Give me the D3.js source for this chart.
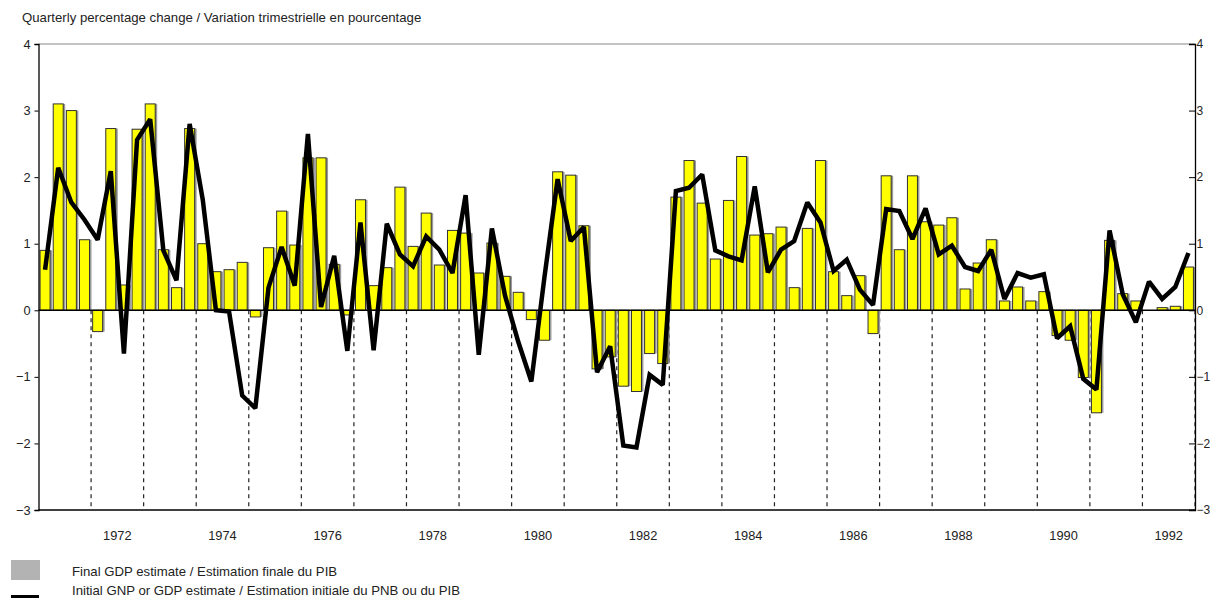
<!DOCTYPE html>
<html>
<head>
<meta charset="utf-8">
<script src="https://cdn.jsdelivr.net/npm/d3@7"></script>
<style>
  body { margin: 0; background: #fff; }
  svg { display: block; font-family: "Liberation Sans", Arial, sans-serif; }
  .tick-label { font-size: 12.8px; fill: #222; }
  .tick-label-right { font-size: 12px; fill: #222; }
</style>
</head>
<body>
<div id="chart"></div>
<script>
// quarterly data, 1971Q1 - 1992Q4
const years = d3.range(1971, 1993);
const quarters = years.flatMap(y => [1, 2, 3, 4].map(q => `${y}Q${q}`));

// final GDP estimate (bars)
const finalEstimate = [
  0.90, 3.10, 3.00, 1.06,
  -0.32, 2.73, 0.38, 2.72,
  3.10, 0.91, 0.34, 2.73,
  1.00, 0.58, 0.61, 0.72,
  -0.10, 0.94, 1.49, 0.98,
  2.29, 2.29, 0.69, -0.07,
  1.66, 0.37, 0.64, 1.85,
  0.96, 1.46, 0.68, 1.20,
  1.16, 0.56, 1.01, 0.51,
  0.27, -0.14, -0.45, 2.08,
  2.03, 1.27, -0.88, -0.70,
  -1.14, -1.22, -0.65, -0.80,
  1.70, 2.25, 1.61, 0.77,
  1.65, 2.31, 1.13, 1.15,
  1.25, 0.34, 1.23, 2.25,
  0.58, 0.22, 0.52, -0.35,
  2.02, 0.91, 2.02, 1.33,
  1.28, 1.39, 0.32, 0.71,
  1.06, 0.14, 0.35, 0.14,
  0.28, -0.38, -0.45, -1.01,
  -1.54, 1.05, 0.25, 0.14,
  0.00, 0.04, 0.06, 0.65
];

// initial GNP / GDP estimate (line)
const initialEstimate = [
  0.61, 2.14, 1.62, 1.36,
  1.06, 2.09, -0.65, 2.56,
  2.87, 0.90, 0.45, 2.80,
  1.66, 0.00, -0.02, -1.28,
  -1.47, 0.34, 0.95, 0.37,
  2.65, 0.05, 0.82, -0.61,
  1.32, -0.60, 1.30, 0.84,
  0.66, 1.11, 0.91, 0.56,
  1.73, -0.67, 1.23, 0.22,
  -0.47, -1.07, 0.50, 1.97,
  1.04, 1.25, -0.93, -0.54,
  -2.03, -2.06, -0.97, -1.12,
  1.79, 1.84, 2.04, 0.90,
  0.81, 0.75, 1.86, 0.57,
  0.91, 1.04, 1.62, 1.32,
  0.59, 0.76, 0.31, 0.08,
  1.52, 1.49, 1.07, 1.53,
  0.84, 0.97, 0.65, 0.59,
  0.91, 0.17, 0.56, 0.49,
  0.54, -0.42, -0.24, -1.03,
  -1.19, 1.20, 0.24, -0.18,
  0.43, 0.17, 0.35, 0.86
];

const yTicks = [-3, -2, -1, 0, 1, 2, 3, 4];
const yearLabels = d3.range(1972, 1993, 2);

const title = 'Quarterly percentage change / Variation trimestrielle en pourcentage';
const legendItems = [
  { key: 'final', label: 'Final GDP estimate / Estimation finale du PIB' },
  { key: 'initial', label: 'Initial GNP or GDP estimate / Estimation initiale du PNB ou du PIB' }
];

const width = 1210, height = 598;
const margin = { top: 44, right: 15, bottom: 88, left: 38.5 };
const plotW = width - margin.left - margin.right;
const plotH = height - margin.top - margin.bottom;

const svg = d3.select('#chart').append('svg')
  .attr('width', width).attr('height', height);

const x = d3.scaleBand().domain(quarters).range([margin.left, margin.left + plotW])
  .paddingInner(0.24).paddingOuter(0.12);
const xYear = d3.scaleLinear().domain([1971, 1993]).range([margin.left, margin.left + plotW]);
const y = d3.scaleLinear().domain([-3, 4]).range([margin.top + plotH, margin.top]);

const x0 = margin.left, x1 = margin.left + plotW;

svg.append('text').attr('x', 22).attr('y', 22)
  .attr('font-size', 13.2).attr('fill', '#222').text(title);

// frame
svg.append('line').attr('x1', x0).attr('x2', x1).attr('y1', y(4)).attr('y2', y(4))
  .attr('stroke', '#888').attr('stroke-width', 1);

// dashed year separators below zero
svg.append('g').selectAll('line').data(d3.range(1972, 1994)).join('line')
  .attr('x1', d => xYear(d)).attr('x2', d => xYear(d))
  .attr('y1', y(0)).attr('y2', y(-3))
  .attr('stroke', '#222').attr('stroke-width', 1.2).attr('stroke-dasharray', '4,4');

// bars: shadow then yellow
const bars = svg.append('g');
bars.selectAll('rect.shadow').data(finalEstimate).join('rect')
  .attr('class', 'shadow')
  .attr('x', (d, i) => x(quarters[i]) + 2)
  .attr('y', d => y(Math.max(0, d)))
  .attr('width', x.bandwidth())
  .attr('height', d => Math.abs(y(d) - y(0)))
  .attr('fill', '#9a9a9a');
bars.selectAll('rect.bar').data(finalEstimate).join('rect')
  .attr('class', 'bar')
  .attr('x', (d, i) => x(quarters[i]))
  .attr('y', d => y(Math.max(0, d)))
  .attr('width', x.bandwidth())
  .attr('height', d => Math.abs(y(d) - y(0)))
  .attr('fill', '#ffff00').attr('stroke', '#333').attr('stroke-width', 1);

// zero line
svg.append('line').attr('x1', x0).attr('x2', x1).attr('y1', y(0)).attr('y2', y(0))
  .attr('stroke', '#000').attr('stroke-width', 1.5);

// left axis
const leftAxis = svg.append('g').attr('transform', `translate(${x0},0)`)
  .call(d3.axisLeft(y).tickValues(yTicks).tickSize(4).tickFormat(d3.format('d')));
leftAxis.select('.domain').attr('stroke', '#000').attr('stroke-width', 1.3);
leftAxis.selectAll('.tick text').attr('class', 'tick-label').attr('font-family', null).attr('font-size', null).attr('dx', -1);

// right axis
const rightAxis = svg.append('g').attr('transform', `translate(${x1},0)`)
  .call(d3.axisLeft(y).tickValues(yTicks).tickSize(6).tickFormat(d3.format('d')));
rightAxis.select('.domain').attr('stroke', '#000').attr('stroke-width', 1.3);
rightAxis.selectAll('.tick text').attr('class', 'tick-label-right').attr('font-family', null).attr('font-size', null)
  .attr('text-anchor', 'start').attr('x', 1.5);

// bottom axis
svg.append('line').attr('x1', x0).attr('x2', x1).attr('y1', y(-3)).attr('y2', y(-3))
  .attr('stroke', '#000').attr('stroke-width', 1.3);
svg.append('g').selectAll('text').data(yearLabels).join('text')
  .attr('class', 'tick-label')
  .attr('x', d => xYear(d + 0.5)).attr('y', y(-3) + 30)
  .attr('text-anchor', 'middle').text(d => d);

// initial estimate line
const line = d3.line()
  .x((d, i) => x(quarters[i]) + x.bandwidth() / 2)
  .y(d => y(d));
svg.append('path').datum(initialEstimate)
  .attr('d', line).attr('fill', 'none').attr('stroke', '#000')
  .attr('stroke-width', 4.5).attr('stroke-linejoin', 'miter').attr('stroke-miterlimit', 2);

// legend
const legend = svg.append('g');
legend.append('rect').attr('x', 11).attr('y', 560).attr('width', 29).attr('height', 20).attr('fill', '#b3b3b3');
legend.append('line').attr('x1', 11).attr('x2', 39).attr('y1', 596.5).attr('y2', 596.5)
  .attr('stroke', '#000').attr('stroke-width', 3);
legend.selectAll('text').data(legendItems).join('text')
  .attr('x', 72).attr('y', (d, i) => 576 + i * 19)
  .attr('font-size', 13.2).attr('fill', '#222').text(d => d.label);
</script>
</body>
</html>
